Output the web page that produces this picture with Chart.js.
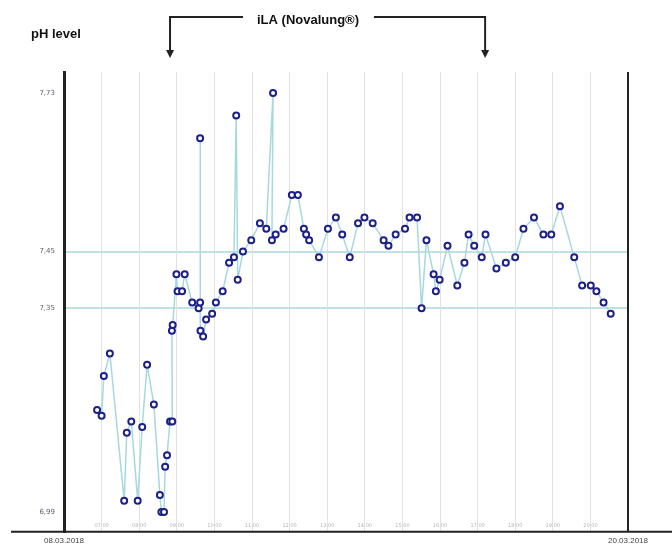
<!DOCTYPE html>
<html>
<head>
<meta charset="utf-8">
<script src="https://cdn.jsdelivr.net/npm/chart.js@4"></script>
<style>
  html, body { margin: 0; padding: 0; background: #fff; }
  #wrap { width: 672px; height: 545px; }
</style>
</head>
<body>
<div id="wrap"><canvas id="phChart"></canvas></div>
<script>
// time of day (hours) for each blood gas sample
const times = [6.88, 7.00, 7.06, 7.22, 7.60, 7.67, 7.79, 7.96, 8.08, 8.21,
  8.39, 8.55, 8.59, 8.66, 8.69, 8.74, 8.82, 8.88, 8.87, 8.89,
  8.99, 9.02, 9.14, 9.21, 9.41, 9.58, 9.62, 9.62, 9.63, 9.70,
  9.78, 9.94, 10.04, 10.22, 10.39, 10.52, 10.58, 10.62, 10.76, 10.98,
  11.21, 11.38, 11.56, 11.53, 11.63, 11.84, 12.06, 12.22, 12.38, 12.44,
  12.52, 12.78, 13.02, 13.23, 13.40, 13.60, 13.82, 13.99, 14.21, 14.50,
  14.63, 14.82, 15.07, 15.19, 15.39, 15.51, 15.64, 15.83, 15.89, 15.99,
  16.20, 16.46, 16.65, 16.76, 16.91, 17.11, 17.21, 17.50, 17.75, 18.00,
  18.22, 18.50, 18.75, 18.96, 19.19, 19.57, 19.78, 20.01, 20.16, 20.35,
  20.54];

const phValues = [7.17, 7.16, 7.23, 7.27, 7.01, 7.13, 7.15, 7.01, 7.14, 7.25,
  7.18, 7.02, 6.99, 6.99, 7.07, 7.09, 7.15, 7.15, 7.31, 7.32,
  7.41, 7.38, 7.38, 7.41, 7.36, 7.35, 7.36, 7.65, 7.31, 7.30,
  7.33, 7.34, 7.36, 7.38, 7.43, 7.44, 7.69, 7.40, 7.45, 7.47,
  7.50, 7.49, 7.73, 7.47, 7.48, 7.49, 7.55, 7.55, 7.49, 7.48,
  7.47, 7.44, 7.49, 7.51, 7.48, 7.44, 7.50, 7.51, 7.50, 7.47,
  7.46, 7.48, 7.49, 7.51, 7.51, 7.35, 7.47, 7.41, 7.38, 7.40,
  7.46, 7.39, 7.43, 7.48, 7.46, 7.44, 7.48, 7.42, 7.43, 7.44,
  7.49, 7.51, 7.48, 7.48, 7.53, 7.44, 7.39, 7.39, 7.38, 7.36,
  7.34];

const yTicks = [6.99, 7.35, 7.45, 7.73];
const normalRange = [7.35, 7.45];
const hourTicks = [7, 8, 9, 10, 11, 12, 13, 14, 15, 16, 17, 18, 19, 20];

const startDate = '08.03.2018';
const endDate = '20.03.2018';
const ilaLabel = 'iLA (Novalung®)';
const ilaStart = 8.82;
const ilaEnd = 17.2;

const points = times.map((t, i) => ({ x: t, y: phValues[i] }));

// axis frame, dates, header and the iLA bracket
const decorations = {
  id: 'decorations',
  afterDraw(chart) {
    const { ctx, chartArea: a, scales: { x } } = chart;
    ctx.save();
    ctx.strokeStyle = '#222';
    ctx.lineWidth = 2;
    ctx.beginPath();
    ctx.moveTo(11, a.bottom);
    ctx.lineTo(chart.width, a.bottom);
    ctx.moveTo(a.right, a.top);
    ctx.lineTo(a.right, a.bottom);
    ctx.stroke();

    ctx.fillStyle = '#444';
    ctx.font = '8px "Liberation Sans"';
    ctx.textAlign = 'center';
    ctx.textBaseline = 'middle';
    ctx.fillText(startDate, x.getPixelForValue(x.min), a.bottom + 9);
    ctx.fillText(endDate, x.getPixelForValue(x.max), a.bottom + 9);

    ctx.fillStyle = '#111';
    ctx.font = 'bold 13px "Liberation Sans"';
    ctx.textAlign = 'left';
    ctx.fillText('pH level', 31, 34);
    ctx.textAlign = 'center';
    ctx.fillText(ilaLabel, 308, 20);

    const xs = x.getPixelForValue(ilaStart);
    const xe = x.getPixelForValue(ilaEnd);
    ctx.lineWidth = 2;
    ctx.beginPath();
    ctx.moveTo(xs, 51);
    ctx.lineTo(xs, 17);
    ctx.lineTo(243, 17);
    ctx.moveTo(374, 17);
    ctx.lineTo(xe, 17);
    ctx.lineTo(xe, 51);
    ctx.stroke();
    ctx.fillStyle = '#222';
    [xs, xe].forEach(px => {
      ctx.beginPath();
      ctx.moveTo(px - 4, 50);
      ctx.lineTo(px + 4, 50);
      ctx.lineTo(px, 58);
      ctx.closePath();
      ctx.fill();
    });
    ctx.restore();
  }
};

new Chart(document.getElementById('phChart'), {
  type: 'line',
  data: {
    datasets: [{
      label: 'pH',
      data: points,
      borderColor: '#a6d8e0',
      borderWidth: 1.5,
      tension: 0,
      pointRadius: 3,
      pointBorderWidth: 2,
      pointBackgroundColor: '#fff',
      pointBorderColor: '#1d2088'
    }]
  },
  options: {
    responsive: true,
    maintainAspectRatio: false,
    animation: false,
    layout: { padding: { left: 34, top: 72, right: 44, bottom: 12 } },
    plugins: {
      legend: { display: false },
      tooltip: { enabled: false }
    },
    scales: {
      x: {
        type: 'linear',
        min: 6,
        max: 21,
        position: { y: 6.971 },
        afterBuildTicks: s => { s.ticks = hourTicks.map(v => ({ value: v })); },
        ticks: {
          padding: 0,
          font: { size: 5, family: 'DejaVu Sans' },
          color: '#b5b5b5',
          callback: v => String(v).padStart(2, '0') + ':00'
        },
        grid: { color: '#e2e2e2', lineWidth: 1, drawTicks: false },
        border: { display: false }
      },
      y: {
        min: 6.955,
        max: 7.767,
        afterBuildTicks: s => { s.ticks = yTicks.map(v => ({ value: v })); },
        afterFit: s => { s.width = 30; },
        ticks: {
          padding: 9,
          font: { size: 7, family: 'DejaVu Sans' },
          color: '#5a5e72',
          callback: v => v.toFixed(2).replace('.', ',')
        },
        grid: {
          drawTicks: false,
          lineWidth: 2,
          color: c => normalRange.includes(c.tick.value) ? '#c2e1e4' : 'rgba(0,0,0,0)'
        },
        border: { color: '#222', width: 3 }
      }
    }
  },
  plugins: [decorations]
});
</script>
</body>
</html>
